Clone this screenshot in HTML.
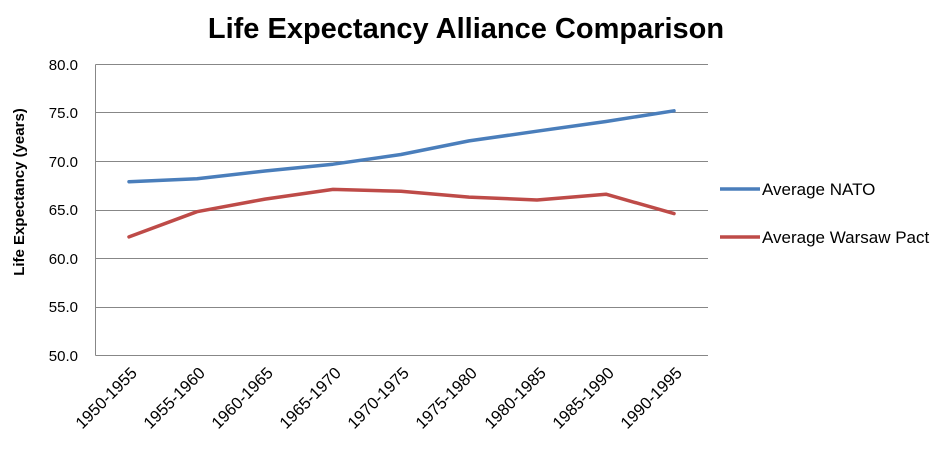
<!DOCTYPE html>
<html><head><meta charset="utf-8"><style>
html,body{margin:0;padding:0;background:#fff;}
svg text{font-family:"Liberation Sans",sans-serif;}
</style></head><body>
<svg width="937" height="452" xmlns="http://www.w3.org/2000/svg">
<rect width="937" height="452" fill="#fff"/>
<text x="466" y="38" text-anchor="middle" font-size="29" font-weight="bold" fill="#000">Life Expectancy Alliance Comparison</text>
<g stroke="#878787" stroke-width="1">
<line x1="95.5" y1="64.5" x2="708" y2="64.5"/>
<line x1="95.5" y1="112.5" x2="708" y2="112.5"/>
<line x1="95.5" y1="161.5" x2="708" y2="161.5"/>
<line x1="95.5" y1="210.5" x2="708" y2="210.5"/>
<line x1="95.5" y1="258.5" x2="708" y2="258.5"/>
<line x1="95.5" y1="307.5" x2="708" y2="307.5"/>
<line x1="95.5" y1="355.5" x2="708" y2="355.5"/>
<line x1="95.5" y1="64.5" x2="95.5" y2="355.5"/>
</g>
<g font-size="15" text-anchor="end" fill="#000">
<text x="78" y="70">80.0</text><text x="78" y="118">75.0</text><text x="78" y="167">70.0</text>
<text x="78" y="215">65.0</text><text x="78" y="264">60.0</text><text x="78" y="312">55.0</text>
<text x="78" y="361">50.0</text>
</g>
<text transform="translate(24,192) rotate(-90)" text-anchor="middle" font-size="15" font-weight="bold">Life Expectancy (years)</text>
<g font-size="16.5" text-anchor="end">
<text transform="translate(138,374) rotate(-45)">1950-1955</text>
<text transform="translate(206,374) rotate(-45)">1955-1960</text>
<text transform="translate(274,374) rotate(-45)">1960-1965</text>
<text transform="translate(342,374) rotate(-45)">1965-1970</text>
<text transform="translate(410,374) rotate(-45)">1970-1975</text>
<text transform="translate(478,374) rotate(-45)">1975-1980</text>
<text transform="translate(547,374) rotate(-45)">1980-1985</text>
<text transform="translate(615,374) rotate(-45)">1985-1990</text>
<text transform="translate(683,374) rotate(-45)">1990-1995</text>
</g>
<polyline fill="none" stroke="#4a7ebb" stroke-width="3.5" stroke-linejoin="round" stroke-linecap="round"
points="129,181.7 197,178.8 265,171 333,164.2 401,154.5 469,140.9 537,131.2 606,121.5 674,110.8"/>
<polyline fill="none" stroke="#be4b48" stroke-width="3.5" stroke-linejoin="round" stroke-linecap="round"
points="129,236.9 197,211.7 265,199.1 333,189.4 401,191.3 469,197.1 537,200 606,194.2 674,213.6"/>
<line x1="720" y1="189" x2="760" y2="189" stroke="#4a7ebb" stroke-width="3.5"/>
<line x1="720" y1="237" x2="760" y2="237" stroke="#be4b48" stroke-width="3.5"/>
<text x="762" y="195" font-size="17">Average NATO</text>
<text x="762" y="243" font-size="17">Average Warsaw Pact</text>
</svg>
</body></html>
